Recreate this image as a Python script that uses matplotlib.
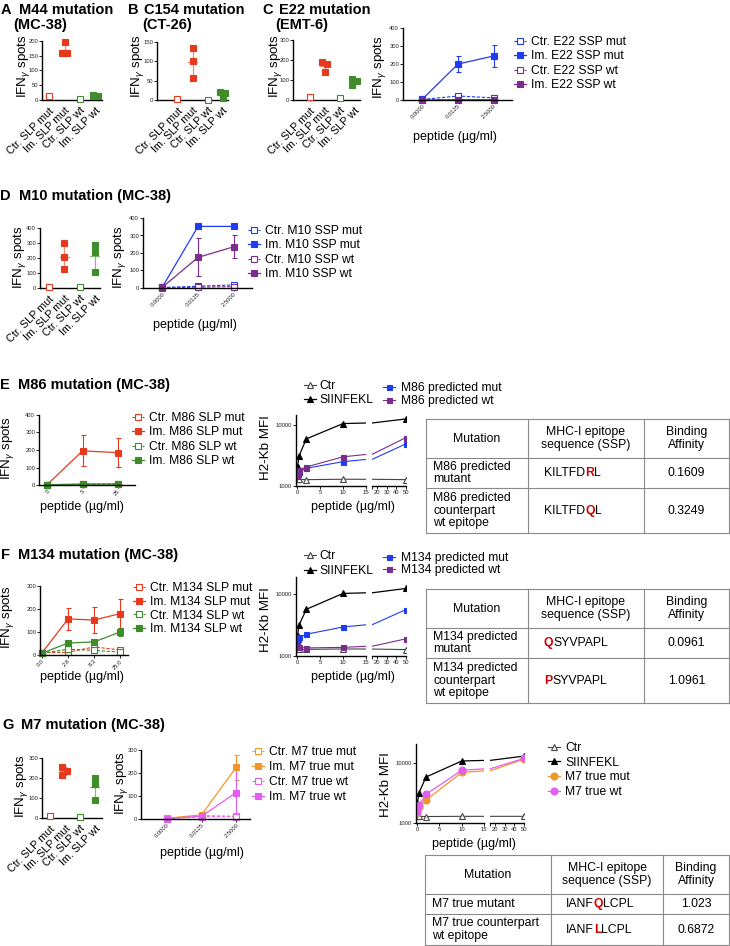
import numpy as np
import matplotlib
matplotlib.use("Agg")
import matplotlib.pyplot as plt
from matplotlib.ticker import FixedLocator, FixedFormatter, NullLocator

plt.rcParams['font.family'] = ['Liberation Sans', 'DejaVu Sans']
plt.rcParams['mathtext.fontset'] = 'custom'
plt.rcParams['mathtext.rm'] = 'Liberation Sans'
plt.rcParams['mathtext.it'] = 'Liberation Sans:italic'
plt.rcParams['mathtext.bf'] = 'Liberation Sans:bold'

# ---------------- data ----------------
slp_labels = ['Ctr. SLP mut', 'Im. SLP mut', 'Ctr. SLP wt', 'Im. SLP wt']
A_vals = [[12], [195, 158, 160], [5], [18, 13, 15]]
B_vals = [[2], [134, 100, 57], [1], [20, 17, 5]]
C_vals = [[13], [190, 180, 138], [10], [103, 97, 77]]
D_vals = [[7], [300, 204, 124], [7], [287, 242, 104]]
G_vals = [[8], [255, 233, 213], [5], [200, 172, 92]]

ssp_doses = ['0.0000', '0.0125', '2.5000']
C_ctr_mut = [3, 22, 12]
C_im_mut = [3, 200, 245]
C_im_mut_sd = [0, 42, 60]
C_ctr_wt = [0, 1, 1]
C_im_wt = [0, 1, 1]
C_names = ['Ctr. E22 SSP mut', 'Im. E22 SSP mut', 'Ctr. E22 SSP wt', 'Im. E22 SSP wt']

D_ctr_mut = [3, 10, 18]
D_im_mut = [3, 352, 352]
D_ctr_wt = [0, 5, 8]
D_im_wt = [3, 175, 236]
D_im_wt_sd = [0, 108, 65]
D_names = ['Ctr. M10 SSP mut', 'Im. M10 SSP mut', 'Ctr. M10 SSP wt', 'Im. M10 SSP wt']

E_doses = ['0', '5', '25']
E_ctr_mut = [2, 5, 5]
E_im_mut = [2, 195, 185]
E_im_mut_sd = [0, 88, 81]
E_ctr_wt = [1, 3, 4]
E_im_wt = [1, 5, 6]
E_names = ['Ctr. M86 SLP mut', 'Im. M86 SLP mut', 'Ctr. M86 SLP wt', 'Im. M86 SLP wt']

F_doses = ['0.0', '2.8', '8.3', '25.0']
F_ctr_mut = [10, 12, 35, 22]
F_im_mut = [10, 157, 152, 180]
F_im_mut_sd = [0, 47, 55, 63]
F_ctr_wt = [8, 25, 20, 13]
F_im_wt = [8, 52, 57, 100]
F_im_wt_sd = [0, 10, 8, 17]
F_names = ['Ctr. M134 SLP mut', 'Im. M134 SLP mut', 'Ctr. M134 SLP wt', 'Im. M134 SLP wt']

G_ctr_mut = [3, 15, 12]
G_im_mut = [3, 18, 225]
G_im_mut_sd = [0, 3, 55]
G_ctr_wt = [2, 10, 10]
G_im_wt = [2, 12, 115]
G_im_wt_sd = [0, 2, 100]
G_names = ['Ctr. M7 true mut', 'Im. M7 true mut', 'Ctr. M7 true wt', 'Im. M7 true wt']

kb_x = [0.016, 0.08, 0.4, 2, 10, 50]
E_kb_ctr = [1300, 1290, 1280, 1270, 1290, 1270]
E_kb_siin = [1650, 2070, 3100, 5900, 10500, 12500]
E_kb_mut = [1450, 1550, 1700, 1950, 2500, 4900]
E_kb_wt = [1500, 1600, 1800, 2050, 3000, 6200]
F_kb_ctr = [1300, 1290, 1280, 1280, 1300, 1270]
F_kb_siin = [1700, 2100, 3150, 5700, 10300, 12400]
F_kb_mut = [1600, 1850, 2000, 2250, 2950, 5650]
F_kb_wt = [1450, 1400, 1380, 1350, 1380, 1900]
G_kb_ctr = [1300, 1290, 1290, 1280, 1290, 1290]
G_kb_siin = [1700, 2150, 3150, 5800, 10700, 12900]
G_kb_mut = [1450, 1630, 1860, 2400, 6900, 11500]
G_kb_wt = [1500, 1780, 1970, 3000, 7500, 11800]

tab_header = ['Mutation', 'MHC-I epitope\nsequence (SSP)', 'Binding\nAffinity']
E_tab = [('M86 predicted\nmutant', ('KILTFD', 'R', 'L'), '0.1609'),
         ('M86 predicted\ncounterpart\nwt epitope', ('KILTFD', 'Q', 'L'), '0.3249')]
F_tab = [('M134 predicted\nmutant', ('', 'Q', 'SYVPAPL'), '0.0961'),
         ('M134 predicted\ncounterpart\nwt epitope', ('', 'P', 'SYVPAPL'), '1.0961')]
G_tab = [('M7 true mutant', ('IANF', 'Q', 'LCPL'), '1.023'),
         ('M7 true counterpart\nwt epitope', ('IANF', 'L', 'LCPL'), '0.6872')]

RED = '#e63a1e'; GREEN = '#3e8c2a'; BLUE = '#1f3cf0'; PURPLE = '#7b2d8e'
ORANGE = '#f2962a'; MAGENTA = '#e35ef0'; SEQRED = '#d40000'

# ---------------- figure ----------------
W, H = 730, 946
fig = plt.figure(figsize=(W / 100, H / 100), dpi=100)
ov = fig.add_axes([0, 0, 1, 1])
ov.set_xlim(0, W); ov.set_ylim(H, 0); ov.axis('off')
renderer = fig.canvas.get_renderer()


def add_ax(l, t, r, b):
    return fig.add_axes([l / W, 1 - b / H, (r - l) / W, (b - t) / H])


def style(ax, left=True):
    ax.spines['top'].set_visible(False)
    ax.spines['right'].set_visible(False)
    ax.spines['left'].set_visible(left)
    ax.spines['left'].set_linewidth(1.0)
    ax.spines['bottom'].set_linewidth(1.0)
    ax.tick_params(length=2.0, width=0.7, labelsize=4.2, colors='#222', pad=0.8)
    ax.set_facecolor('none')


def ylab(ax, text, xc, yc, size=9.6):
    ax.set_ylabel(text, fontsize=size)
    ax.yaxis.set_label_coords(xc, yc, transform=ov.transData)
    ax.yaxis.label.set_verticalalignment('center')


def xlab(ax, text, xc, yc, size=9):
    ax.set_xlabel(text, fontsize=size)
    ax.xaxis.set_label_coords(xc, yc, transform=ov.transData)
    ax.xaxis.label.set_verticalalignment('center')


def title(letter, lx, text, tx, y, text2=None, tx2=None, y2=None):
    ov.text(lx, y, letter, fontsize=10.5, fontweight='bold', va='baseline')
    ov.text(tx, y, text, fontsize=10.5, fontweight='bold', va='baseline')
    if text2:
        ov.text(tx2, y2, text2, fontsize=10.5, fontweight='bold', va='baseline')


IFN = r'IFN$_{\gamma}$ spots'


def jitter(v, span):
    # spread only points that would overlap each other
    offs = np.zeros(len(v))
    thr = 0.08 * span
    k = 0
    for i in range(len(v)):
        if any(abs(v[i] - v[j]) < thr for j in range(len(v)) if j != i):
            offs[i] = -0.17 if k % 2 == 0 else 0.17
            k += 1
    return offs


def scatter_panel(box, vals, ylim, yticks, xlim, lab_xy):
    ax = add_ax(*box)
    style(ax)
    colors = [RED, RED, GREEN, GREEN]
    filled = [False, True, False, True]
    for i, (v, c, f) in enumerate(zip(vals, colors, filled)):
        v = np.asarray(v, float)
        xs = i + jitter(v, ylim[1] - ylim[0])
        ax.plot(xs, v, 's', ms=3.8, mfc=c if f else 'white', mec=c, mew=0.8,
                ls='none', zorder=3, clip_on=False)
        if len(v) > 1:
            m, sd = v.mean(), v.std(ddof=1)
            ax.plot([i - 0.3, i + 0.3], [m, m], color=c, lw=1.0, alpha=0.6)
            ax.errorbar(i, m, yerr=sd, fmt='none', ecolor=c, alpha=0.6,
                        capsize=1.6, elinewidth=0.9, capthick=0.9)
    ax.set_ylim(*ylim); ax.set_yticks(yticks); ax.set_xlim(*xlim)
    ax.set_xticks(range(4))
    ax.set_xticklabels(slp_labels, rotation=45, ha='right', rotation_mode='anchor',
                       fontsize=7.8, color='black')
    ax.tick_params(axis='x', length=0, pad=4)
    ylab(ax, IFN, *lab_xy)
    return ax


def legend_at(handles, labels, x, yc, fs=8.7, ls=0.2, hl=1.0, hp=0.4):
    fig.legend(handles, labels, loc='upper left',
               bbox_to_anchor=(x / W, 1 - (yc - 7) / H), frameon=False,
               fontsize=fs, labelspacing=ls, handlelength=hl, handletextpad=hp,
               borderpad=0, borderaxespad=0)


def line_panel(box, doses, series, ylim, yticks, xlim, lab_xy, xl_xy, names,
               leg_xy, lsp=0.2):
    ax = add_ax(*box)
    style(ax)
    x = np.arange(len(doses))
    handles = []
    for y, err, c, f in series:
        eb = ax.errorbar(x, y, yerr=err, color=c, ecolor=c, marker='s', ms=3.8,
                         mfc=c if f else 'white', mec=c, mew=0.8,
                         ls='-' if f else (0, (3, 1.5)), lw=0.9 if f else 0.8,
                         capsize=1.8, elinewidth=0.8, capthick=0.8, clip_on=False)
        handles.append(eb.lines[0])
    ax.set_ylim(*ylim); ax.set_yticks(yticks); ax.set_xlim(*xlim)
    ax.set_xticks(x)
    ax.set_xticklabels(doses, rotation=45, ha='right', rotation_mode='anchor', fontsize=4.2)
    ylab(ax, IFN, *lab_xy)
    xlab(ax, 'peptide (µg/ml)', *xl_xy)
    legend_at(handles, names, leg_xy[0], leg_xy[1], ls=lsp)
    return ax


def kb_panel(l, t, r1, l2, r2, b, ylim, series, lab_xy, xl_xy):
    a1 = add_ax(l, t, r1, b)
    a2 = add_ax(l2, t, r2, b)
    style(a1); style(a2, left=False)
    handles = []
    for y, c, mk, fc, ms, lw in series:
        for a in (a1, a2):
            ln, = a.plot(kb_x, y, color=c, marker=mk, ms=ms, mfc=fc, mec=c,
                         mew=0.8, lw=lw)
        handles.append(ln)
    for a in (a1, a2):
        a.set_yscale('log')
        a.set_ylim(*ylim)
        a.yaxis.set_minor_locator(NullLocator())
    a1.yaxis.set_major_locator(FixedLocator([1000, 10000]))
    a1.yaxis.set_major_formatter(FixedFormatter(['1000', '10000']))
    a2.tick_params(axis='y', left=False, labelleft=False)
    a1.set_xlim(-0.25, 15); a2.set_xlim(15, 50)
    a1.set_xticks([0, 5, 10, 15])
    a2.set_xticks([15, 20, 30, 40, 50]); a2.set_xticklabels(['', '20', '30', '40', '50'])
    ylab(a1, 'H2-Kb MFI', *lab_xy)
    xlab(a1, 'peptide (µg/ml)', *xl_xy)
    return handles


def seq_text(x, y, parts, fs=8.8):
    for k, s in enumerate(parts):
        if not s:
            continue
        red = (k == 1)
        t = ov.text(x, y, s, fontsize=fs, va='center', ha='left',
                    color=SEQRED if red else 'black',
                    fontweight='bold' if red else 'normal')
        x += t.get_window_extent(renderer).width


def table(xs, ys, rows, seqx, fs=8.8):
    lc = '#8a8a8a'
    for xv in xs:
        ov.plot([xv, xv], [ys[0], ys[-1]], color=lc, lw=0.8)
    for yv in ys:
        ov.plot([xs[0], xs[-1]], [yv, yv], color=lc, lw=0.8)
    hy = (ys[0] + ys[1]) / 2
    for j, h in enumerate(tab_header):
        ov.text((xs[j] + xs[j + 1]) / 2, hy, h, fontsize=fs, ha='center', va='center',
                linespacing=1.15)
    for i, (name, seq, aff) in enumerate(rows):
        ry = (ys[i + 1] + ys[i + 2]) / 2
        ov.text(xs[0] + 7, ry, name, fontsize=fs, ha='left', va='center', linespacing=1.1)
        seq_text(seqx, ry, seq, fs)
        ov.text((xs[2] + xs[3]) / 2, ry, aff, fontsize=fs, ha='center', va='center')


# ---------------- panel titles ----------------
title('A', 1, 'M44 mutation', 19, 14, '(MC-38)', 13, 29)
title('B', 128, 'C154 mutation', 144, 14, '(CT-26)', 142, 29)
title('C', 262, 'E22 mutation', 279, 14, '(EMT-6)', 275, 29)
title('D', 0, 'M10 mutation (MC-38)', 19, 200)
title('E', 0, 'M86 mutation (MC-38)', 18, 389)
title('F', 1, 'M134 mutation (MC-38)', 18, 559)
title('G', 2, 'M7 mutation (MC-38)', 21, 729)

# ---------------- A-C ----------------
scatter_panel((42, 41, 102, 100), A_vals, (0, 200), [0, 50, 100, 150, 200], (-0.47, 3.45), (23, 66))
scatter_panel((157, 42, 228, 100), B_vals, (0, 150), [0, 50, 100, 150], (-1.35, 3.35), (138, 66))
scatter_panel((293, 40, 360, 100), C_vals, (0, 300), [0, 100, 200, 300], (-1.1, 3.35), (276, 66))

line_panel((403, 28, 512, 100), ssp_doses,
           [(C_ctr_mut, None, BLUE, False), (C_im_mut, C_im_mut_sd, BLUE, True),
            (C_ctr_wt, None, PURPLE, False), (C_im_wt, None, PURPLE, True)],
           (0, 400), [0, 100, 200, 300, 400], (-0.53, 2.5), (380, 67), (455, 137),
           C_names, (514, 43))

# ---------------- D ----------------
scatter_panel((40, 228, 100, 288), D_vals, (0, 400), [0, 100, 200, 300, 400], (-0.6, 3.33), (20, 257))
line_panel((143, 218, 252, 288), ssp_doses,
           [(D_ctr_mut, None, BLUE, False), (D_im_mut, None, BLUE, True),
            (D_ctr_wt, None, PURPLE, False), (D_im_wt, D_im_wt_sd, PURPLE, True)],
           (0, 400), [0, 100, 200, 300, 400], (-0.53, 2.5), (120, 257), (195, 325),
           D_names, (248, 232))

# ---------------- E ----------------
line_panel((39, 415, 135, 485), E_doses,
           [(E_ctr_mut, None, RED, False), (E_im_mut, E_im_mut_sd, RED, True),
            (E_ctr_wt, None, GREEN, False), (E_im_wt, None, GREEN, True)],
           (0, 400), [0, 100, 200, 300, 400], (-0.23, 2.48), (8, 448), (82, 507),
           E_names, (132, 419))
h = kb_panel(296, 415, 366, 372, 406, 486, (1000, 14500),
             [(E_kb_ctr, '#444444', '^', 'white', 4, 0.8),
              (E_kb_siin, 'black', '^', 'black', 4, 0.9),
              (E_kb_mut, BLUE, 's', BLUE, 3.6, 0.8),
              (E_kb_wt, PURPLE, 's', PURPLE, 3.6, 0.8)], (266, 448), (353, 507))
legend_at(h[:2], ['Ctr', 'SIINFEKL'], 304, 387, hp=0.3)
legend_at(h[2:], ['M86 predicted mut', 'M86 predicted wt'], 383, 389, ls=0.1, hp=0.5)
table([426, 528, 644, 729], [419, 458, 488, 533], E_tab, 544)

# ---------------- F ----------------
line_panel((40, 586, 128, 655), F_doses,
           [(F_ctr_mut, None, RED, False), (F_im_mut, F_im_mut_sd, RED, True),
            (F_ctr_wt, None, GREEN, False), (F_im_wt, F_im_wt_sd, GREEN, True)],
           (0, 300), [0, 100, 200, 300], (-0.08, 3.3), (8, 617), (82, 677),
           F_names, (133, 589), lsp=0.15)
h = kb_panel(296, 577, 366, 372, 406, 656, (1000, 19000),
             [(F_kb_ctr, '#444444', '^', 'white', 4, 0.8),
              (F_kb_siin, 'black', '^', 'black', 4, 0.9),
              (F_kb_mut, BLUE, 's', BLUE, 3.6, 0.8),
              (F_kb_wt, PURPLE, 's', PURPLE, 3.6, 0.8)], (266, 620), (353, 677))
legend_at(h[:2], ['Ctr', 'SIINFEKL'], 304, 557, ls=0.25, hp=0.3)
legend_at(h[2:], ['M134 predicted mut', 'M134 predicted wt'], 383, 559, ls=0.0, hp=0.5)
table([426, 528, 644, 729], [589, 628, 658, 703], F_tab, 544)

# ---------------- G ----------------
scatter_panel((42, 758, 102, 818), G_vals, (0, 300), [0, 100, 200, 300], (-0.53, 3.47), (22, 786))
line_panel((141, 750, 250, 819), ssp_doses,
           [(G_ctr_mut, None, ORANGE, False), (G_im_mut, G_im_mut_sd, ORANGE, True),
            (G_ctr_wt, None, MAGENTA, False), (G_im_wt, G_im_wt_sd, MAGENTA, True)],
           (0, 300), [0, 100, 200, 300], (-0.75, 2.4), (122, 783), (202, 853),
           G_names, (252, 753), lsp=0.25)
h = kb_panel(416, 744, 484, 490, 524, 823, (1000, 20500),
             [(G_kb_ctr, '#444444', '^', 'white', 4, 0.8),
              (G_kb_siin, 'black', '^', 'black', 4, 0.9),
              (G_kb_mut, ORANGE, 'o', ORANGE, 5, 0.9),
              (G_kb_wt, MAGENTA, 'o', MAGENTA, 5, 0.9)], (386, 785), (474, 844))
legend_at(h, ['Ctr', 'SIINFEKL', 'M7 true mut', 'M7 true wt'], 548, 749, ls=0.22, hp=0.4)
table([425, 551, 663, 729], [855, 894, 914, 945], G_tab, 566)

fig.savefig('out.png', dpi=100)
